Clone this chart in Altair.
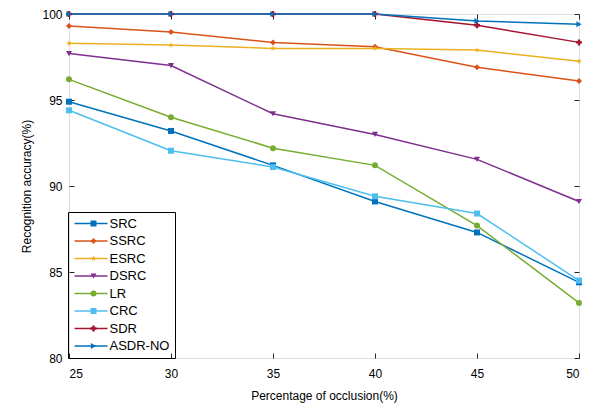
import altair as alt
import pandas as pd

occlusion = [25, 30, 35, 40, 45, 50]
acc_ticks = [80, 85, 90, 95, 100]
methods = ["SRC", "SSRC", "ESRC", "DSRC", "LR", "CRC", "SDR", "ASDR-NO"]
src = [94.9, 93.2, 91.2, 89.1, 87.3, 84.4]
ssrc = [99.3, 98.95, 98.35, 98.1, 96.9, 96.1]
esrc = [98.3, 98.2, 98.0, 98.0, 97.9, 97.25]
dsrc = [97.7, 97.0, 94.2, 93.0, 91.55, 89.1]
lr = [96.2, 94.0, 92.2, 91.2, 87.7, 83.2]
crc = [94.4, 92.05, 91.1, 89.4, 88.4, 84.5]
sdr = [100.0, 100.0, 100.0, 100.0, 99.35, 98.35]
asdr_no = [100.0, 100.0, 100.0, 100.0, 99.6, 99.4]

series = [src, ssrc, esrc, dsrc, lr, crc, sdr, asdr_no]
colors = ["#0072BD", "#D95319", "#EDB120", "#7E2F8E", "#77AC30", "#4DBEEE", "#A2142F", "#0072BD"]
star = "M0,-1L0.235,-0.324L0.951,-0.309L0.38,0.124L0.588,0.809L0,0.4L-0.588,0.809L-0.38,0.124L-0.951,-0.309L-0.235,-0.324Z"
shapes = ["square", "diamond", star, "triangle-down", "circle", "square", "cross", "triangle-right"]

rows = []
for m, vals in zip(methods, series):
    for x, v in zip(occlusion, vals):
        rows.append({"method": m, "x": x, "acc": v})
df = pd.DataFrame(rows)

FONT = "Liberation Sans"
TICK = "#262626"
xscale = alt.Scale(domain=[25, 50], nice=False)
yscale = alt.Scale(domain=[80, 100], nice=False)

xenc = alt.X("x:Q", scale=xscale,
             axis=alt.Axis(values=occlusion, title="Percentage of occlusion(%)", grid=False,
                           offset=-5, tickSize=5, tickColor=TICK, tickWidth=1, domain=False,
                           labelPadding=10, titlePadding=11,
                           labelColor="black", titleColor="black", labelFontSize=12, titleFontSize=12,
                           titleFontWeight="normal", labelFont=FONT, titleFont=FONT))
yenc = alt.Y("acc:Q", scale=yscale,
             axis=alt.Axis(values=acc_ticks, title="Recognition accuracy(%)", grid=False,
                           offset=-5, tickSize=5, tickColor=TICK, tickWidth=1, domain=False,
                           labelPadding=7, titlePadding=8,
                           labelColor="black", titleColor="black", labelFontSize=12, titleFontSize=12,
                           titleFontWeight="normal", labelFont=FONT, titleFont=FONT))


def tick_axis(values, orient):
    return alt.Axis(values=values, orient=orient, offset=-5, tickSize=5, tickColor=TICK,
                    tickWidth=1, labels=False, domain=False, grid=False, title=None)


lines = alt.Chart(df).mark_line(strokeWidth=1.5).encode(
    x=xenc, y=yenc,
    color=alt.Color("method:N", sort=methods, scale=alt.Scale(domain=methods, range=colors),
                    legend=alt.Legend(orient="none", legendX=-1, legendY=198, title=None,
                                      symbolType="M-3,0H3", symbolSize=121, symbolStrokeWidth=1.5,
                                      symbolOffset=11.5, labelOffset=12, labelFontSize=13, labelFont=FONT,
                                      labelColor="black", rowPadding=3.5, padding=5,
                                      strokeColor="black")),
    detail="method:N",
    order="x:Q",
)

pt_legend = alt.Legend(orient="none", legendX=-1, legendY=198, title=None, labelExpr="''",
                       symbolSize=36, symbolOffset=14, labelOffset=0, labelFontSize=13,
                       labelFont=FONT, rowPadding=3.5, padding=5)

points = alt.Chart(df).mark_point(filled=True, size=36, opacity=1).encode(
    x=alt.X("x:Q", scale=xscale, axis=tick_axis(occlusion, "top")),
    y=alt.Y("acc:Q", scale=yscale, axis=tick_axis(acc_ticks, "right")),
    color=alt.Color("method:N", sort=methods, scale=alt.Scale(domain=methods, range=colors),
                    legend=pt_legend),
    shape=alt.Shape("method:N", sort=methods, scale=alt.Scale(domain=methods, range=shapes),
                    legend=pt_legend),
)

chart = alt.layer(lines, points).resolve_legend(
    color="independent", shape="independent"
).resolve_axis(x="independent", y="independent").properties(
    width=510, height=344,
    autosize=alt.AutoSizeParams(type="none"),
    padding={"left": 61, "top": 6, "right": 12, "bottom": 46},
).configure_view(stroke="black", strokeWidth=1).configure(background="white")

chart.save("out.html", embed_options={"renderer": "svg", "actions": False})
